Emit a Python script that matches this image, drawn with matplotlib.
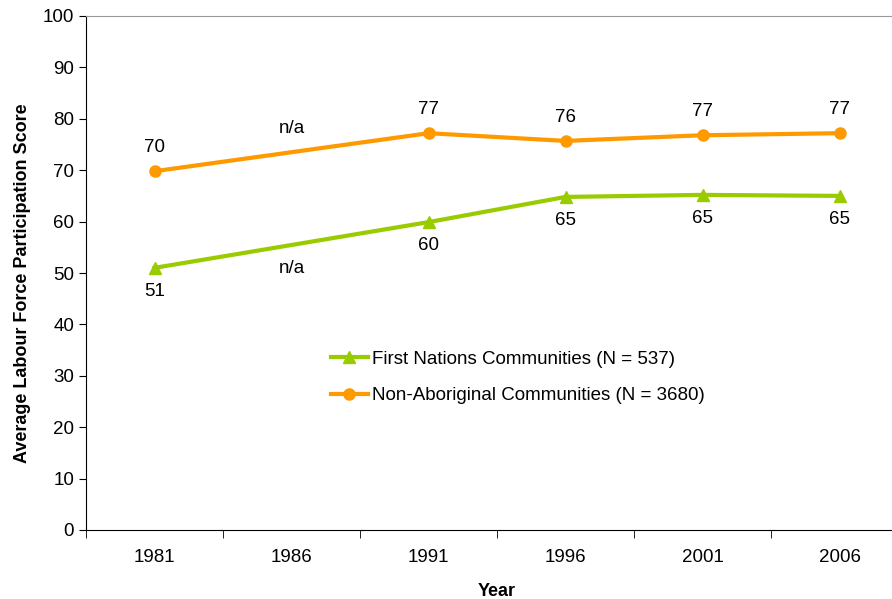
import numpy as np
import matplotlib.pyplot as plt

plt.rcParams['font.family'] = ['Liberation Sans', 'DejaVu Sans']

years = ['1981', '1986', '1991', '1996', '2001', '2006']
first_nations = [51.0, np.nan, 59.9, 64.8, 65.2, 65.0]
non_aboriginal = [69.8, np.nan, 77.2, 75.7, 76.8, 77.2]
fn_labels = ['51', 'n/a', '60', '65', '65', '65']
na_labels = ['70', 'n/a', '77', '76', '77', '77']

green = '#99CC00'
orange = '#FF9900'

fig = plt.figure(figsize=(8.92, 5.99), dpi=100)
# plot area runs past the right edge, as in the original
ax = fig.add_axes([86/892, 69/599, 822/892, 514/599])

x = np.arange(len(years))
fn = np.array(first_nations)
na = np.array(non_aboriginal)
ok_fn = ~np.isnan(fn)
ok_na = ~np.isnan(na)

ax.plot(x[ok_fn], fn[ok_fn], color=green, lw=3, marker='^', ms=8,
        label='First Nations Communities (N = 537)')
ax.plot(x[ok_na], na[ok_na], color=orange, lw=3, marker='o', ms=8,
        label='Non-Aboriginal Communities (N = 3680)')

# data labels; the missing year sits on the interpolated line
fn_fill = np.interp(x, x[ok_fn], fn[ok_fn])
na_fill = np.interp(x, x[ok_na], na[ok_na])
for i in range(len(years)):
    ax.annotate(na_labels[i], (x[i], na_fill[i]), xytext=(0, 11),
                textcoords='offset points', ha='center', va='bottom', fontsize=13.5)
    ax.annotate(fn_labels[i], (x[i], fn_fill[i]), xytext=(0, -11),
                textcoords='offset points', ha='center', va='top', fontsize=13.5)

ax.set_xlim(-0.5, len(years) - 0.5)
ax.set_ylim(0, 100)
ax.set_yticks(np.arange(0, 101, 10))
ax.set_xticks(x)
ax.set_xticklabels(years)
ax.set_xticks(np.arange(-0.5, len(years)), minor=True)
ax.tick_params(axis='x', which='major', length=0, pad=14, labelsize=13.5)
ax.tick_params(axis='x', which='minor', length=6, direction='out')
ax.tick_params(axis='y', length=5, direction='out', labelsize=13.5)

ax.spines['right'].set_visible(False)
ax.spines['top'].set_color('#999999')
ax.spines['left'].set_color('black')
ax.spines['bottom'].set_color('black')

ax.set_xlabel('Year', fontsize=13, fontweight='bold', labelpad=12)
ax.set_ylabel('Average Labour Force Participation Score', fontsize=13,
              fontweight='bold')
ax.yaxis.set_label_coords(-0.067, 0.48)

ax.legend(loc='upper left', bbox_to_anchor=(237/822, 1 - 327/514), frameon=False,
          fontsize=13.5, handlelength=2.0, labelspacing=1.05, handletextpad=0.2,
          borderaxespad=0)

fig.savefig('out.png', dpi=100)
